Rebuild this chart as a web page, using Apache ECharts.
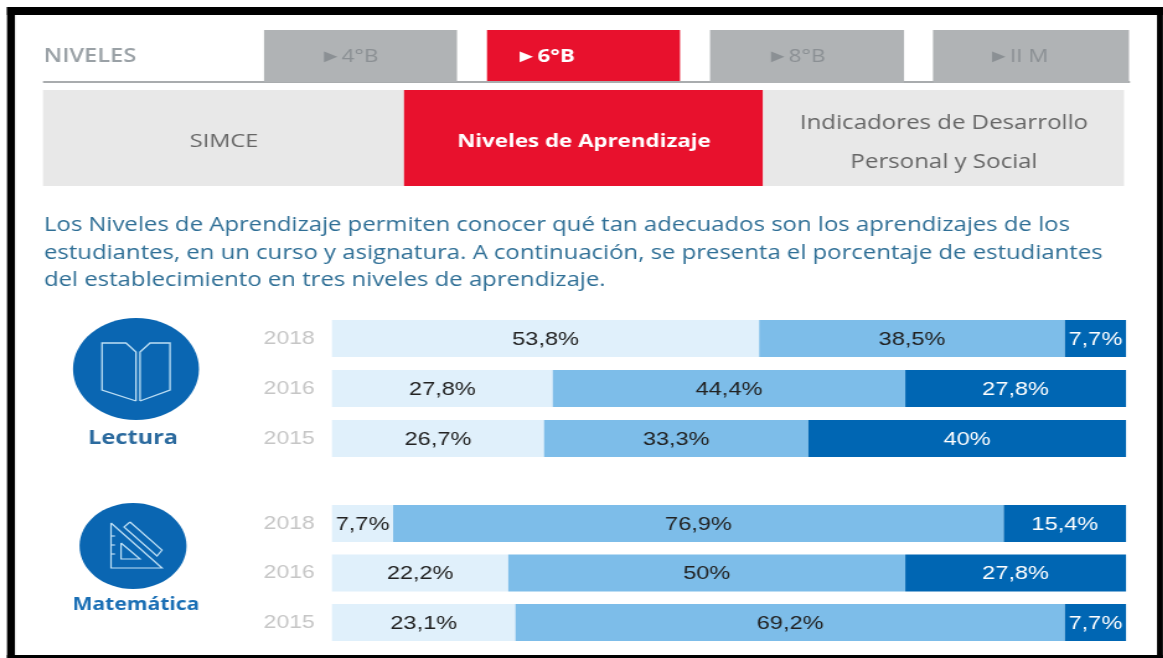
<!DOCTYPE html>
<html>
<head>
<meta charset="utf-8">
<style>
html,body{margin:0;padding:0;background:#fff;overflow:hidden;}
/* la imagen original esta estirada en horizontal */
#chart{width:938px;height:658px;transform:scaleX(1.24);transform-origin:0 0;}
</style>
<script src="https://cdn.jsdelivr.net/npm/echarts@6/dist/echarts.min.js"></script>
</head>
<body>
<div id="chart"></div>
<script>
var years = ['2018', '2016', '2015'];
var lecturaBajo = [53.8, 27.8, 26.7];
var lecturaMedio = [38.5, 44.4, 33.3];
var lecturaAlto = [7.7, 27.8, 40];
var mateBajo = [7.7, 22.2, 23.1];
var mateMedio = [76.9, 50, 69.2];
var mateAlto = [15.4, 27.8, 7.7];
var parrafo = [
    'Los Niveles de Aprendizaje permiten conocer qué tan adecuados son los aprendizajes de los',
    'estudiantes, en un curso y asignatura. A continuación, se presenta el porcentaje de estudiantes',
    'del establecimiento en tres niveles de aprendizaje.'
];

var STRETCH = 1.24;
function sx(x) { return x / STRETCH; }

var chart = echarts.init(document.getElementById('chart'));

function box(x0, y0, x1, y1, color) {
    return { type: 'rect', z: 1, shape: { x: sx(x0), y: y0, width: sx(x1 - x0), height: y1 - y0 }, style: { fill: color } };
}
function txt(x, y, text, size, color, weight) {
    return {
        type: 'text', z: 3, x: sx(x), y: y,
        style: { text: text, font: (weight || 'normal') + ' ' + size + 'px "Open Sans"', fill: color, textAlign: 'center', textVerticalAlign: 'middle' }
    };
}
// linea del icono, x en pixeles de la imagen
function trazo(puntos, width) {
    return {
        type: 'polyline', z: 3,
        shape: { points: puntos.map(function (p) { return [sx(p[0]), p[1]]; }) },
        style: { fill: 'none', stroke: '#bfe0f5', lineWidth: width }
    };
}

var graphics = [
    // marco negro
    box(7, 7, 1163, 15, '#000'),
    box(7, 7, 15, 658, '#000'),
    box(1157, 7, 1163, 658, '#000'),
    box(7, 655, 1163, 658, '#000'),
    // pestanas de nivel
    box(43, 81, 1130, 83, '#a9acae'),
    box(264, 30, 457, 82, '#b0b3b5'),
    box(487, 30, 680, 81, '#e8112d'),
    box(710, 30, 904, 83, '#b0b3b5'),
    box(933, 30, 1129, 83, '#b0b3b5'),
    txt(90, 57, 'NIVELES', 19, '#9aa1a6', '600'),
    txt(349, 57, '►4°B', 18, '#8b9094'),
    txt(545, 57, '►6°B', 18, '#fff', 'bold'),
    txt(796, 57, '►8°B', 18, '#8b9094'),
    txt(1018, 57, '►II M', 18, '#8b9094'),
    // pestanas de contenido
    box(43, 90, 404, 186, '#e8e8e8'),
    box(404, 90, 763, 186, '#e8112d'),
    box(763, 90, 1124, 186, '#e8e8e8'),
    txt(224, 142, 'SIMCE', 19, '#666'),
    txt(584, 142, 'Niveles de Aprendizaje', 18, '#fff', 'bold'),
    txt(944, 123, 'Indicadores de Desarrollo', 19.4, '#666'),
    txt(944, 162, 'Personal y Social', 19.4, '#666'),
    // iconos
    { type: 'ellipse', z: 2, shape: { cx: sx(136), cy: 369, rx: sx(63), ry: 51 }, style: { fill: '#0a66b2' } },
    trazo([[136, 401], [102, 390], [102, 343], [126, 343], [136, 352], [136, 401]], 1.3),
    trazo([[140, 401], [170, 390], [170, 343], [150, 343], [140, 352], [140, 401]], 1.3),
    txt(133, 439, 'Lectura', 19, '#2b6a9e', 'bold'),
    { type: 'ellipse', z: 2, shape: { cx: sx(133), cy: 546, rx: sx(53.5), ry: 43 }, style: { fill: '#0a66b2' } },
    trazo([[111, 523], [111, 568], [162, 568], [111, 523]], 1.2),
    trazo([[121, 543], [121, 559], [140, 559], [121, 543]], 1.2),
    trazo([[130, 522], [162, 550], [157, 556], [124, 527], [130, 522]], 1.2),
    trazo([[111, 536], [115, 536]], 1.2),
    trazo([[111, 545], [115, 545]], 1.2),
    trazo([[111, 554], [115, 554]], 1.2),
    txt(136, 605, 'Matemática', 17, '#1a6fb5', 'bold')
];
parrafo.forEach(function (linea, i) {
    graphics.push({
        type: 'text', z: 3, x: sx(44), y: 226 + i * 27.5,
        style: { text: linea, font: '19.3px "Open Sans"', fill: '#2f6f96', textAlign: 'left', textVerticalAlign: 'middle' }
    });
});

function etiqueta(params) {
    return String(params.value).replace('.', ',') + '%';
}
function serie(nombre, datos, color, textColor, idx) {
    return {
        name: nombre, type: 'bar', stack: 'g' + idx, xAxisIndex: idx, yAxisIndex: idx,
        data: datos, barWidth: 37, silent: true,
        itemStyle: { color: color },
        label: { show: true, position: 'inside', offset: [0, 1], formatter: etiqueta, color: textColor, fontFamily: 'Liberation Sans', fontSize: 19 }
    };
}
function ejeY(idx) {
    return {
        type: 'category', gridIndex: idx, data: years, inverse: true,
        axisLine: { show: false }, axisTick: { show: false },
        axisLabel: { color: '#c6c6c6', fontFamily: 'Liberation Sans', fontSize: 18.5, margin: 14, padding: [4, 0, 0, 0] }
    };
}
function ejeX(idx) {
    return { type: 'value', gridIndex: idx, min: 0, max: 100, show: false };
}

var option = {
    animation: false,
    backgroundColor: '#fff',
    grid: [
        { left: sx(332), width: sx(794), top: 313.5, height: 150 },
        { left: sx(332), width: sx(794), top: 498.75, height: 148.5 }
    ],
    xAxis: [ejeX(0), ejeX(1)],
    yAxis: [ejeY(0), ejeY(1)],
    series: [
        serie('Insuficiente', lecturaBajo, '#e0f0fb', '#222', 0),
        serie('Elemental', lecturaMedio, '#7dbde9', '#222', 0),
        serie('Adecuado', lecturaAlto, '#0066b3', '#fff', 0),
        serie('Insuficiente', mateBajo, '#e0f0fb', '#222', 1),
        serie('Elemental', mateMedio, '#7dbde9', '#222', 1),
        serie('Adecuado', mateAlto, '#0066b3', '#fff', 1)
    ],
    graphic: graphics
};
chart.setOption(option);
</script>
</body>
</html>
